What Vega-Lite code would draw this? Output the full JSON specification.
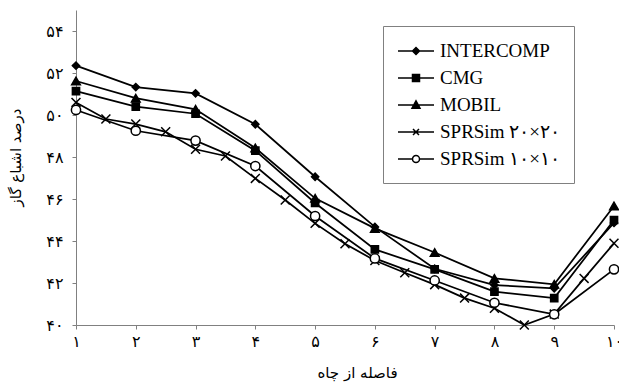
{
  "$schema": "https://vega.github.io/schema/vega-lite/v6.json",
  "width": 538,
  "height": 315,
  "autosize": {"type": "none"},
  "padding": {"left": 76, "top": 10, "right": 5, "bottom": 57},
  "background": "white",
  "config": {
    "view": {"stroke": null},
    "axis": {
      "grid": false,
      "domainColor": "#808080",
      "tickColor": "#808080",
      "tickSize": 4,
      "labelFont": "DejaVu Sans",
      "labelColor": "black",
      "labelFontSize": 15,
      "titleFont": "DejaVu Sans",
      "titleFontSize": 15,
      "titleFontWeight": "normal",
      "titleColor": "black"
    }
  },
  "data": {
    "values": [
      {"series": "INTERCOMP", "x": 1, "y": 52.35},
      {"series": "INTERCOMP", "x": 2, "y": 51.33},
      {"series": "INTERCOMP", "x": 3, "y": 51.03},
      {"series": "INTERCOMP", "x": 4, "y": 49.56},
      {"series": "INTERCOMP", "x": 5, "y": 47.06},
      {"series": "INTERCOMP", "x": 6, "y": 44.67},
      {"series": "INTERCOMP", "x": 7, "y": 42.68},
      {"series": "INTERCOMP", "x": 8, "y": 41.9},
      {"series": "INTERCOMP", "x": 9, "y": 41.75},
      {"series": "INTERCOMP", "x": 10, "y": 44.86},
      {"series": "CMG", "x": 1, "y": 51.14},
      {"series": "CMG", "x": 2, "y": 50.4},
      {"series": "CMG", "x": 3, "y": 50.06},
      {"series": "CMG", "x": 4, "y": 48.3},
      {"series": "CMG", "x": 5, "y": 45.81},
      {"series": "CMG", "x": 6, "y": 43.6},
      {"series": "CMG", "x": 7, "y": 42.65},
      {"series": "CMG", "x": 8, "y": 41.59},
      {"series": "CMG", "x": 9, "y": 41.28},
      {"series": "CMG", "x": 10, "y": 45.0},
      {"series": "MOBIL", "x": 1, "y": 51.62},
      {"series": "MOBIL", "x": 2, "y": 50.8},
      {"series": "MOBIL", "x": 3, "y": 50.27},
      {"series": "MOBIL", "x": 4, "y": 48.43},
      {"series": "MOBIL", "x": 5, "y": 46.03},
      {"series": "MOBIL", "x": 6, "y": 44.6},
      {"series": "MOBIL", "x": 7, "y": 43.45},
      {"series": "MOBIL", "x": 8, "y": 42.22},
      {"series": "MOBIL", "x": 9, "y": 41.94},
      {"series": "MOBIL", "x": 10, "y": 45.67},
      {"series": "SPRSim ۲۰×۲۰", "x": 1, "y": 50.6},
      {"series": "SPRSim ۲۰×۲۰", "x": 1.5, "y": 49.81},
      {"series": "SPRSim ۲۰×۲۰", "x": 2, "y": 49.57},
      {"series": "SPRSim ۲۰×۲۰", "x": 2.5, "y": 49.2},
      {"series": "SPRSim ۲۰×۲۰", "x": 3, "y": 48.37},
      {"series": "SPRSim ۲۰×۲۰", "x": 3.5, "y": 48.05},
      {"series": "SPRSim ۲۰×۲۰", "x": 4, "y": 46.98},
      {"series": "SPRSim ۲۰×۲۰", "x": 4.5, "y": 45.95},
      {"series": "SPRSim ۲۰×۲۰", "x": 5, "y": 44.84},
      {"series": "SPRSim ۲۰×۲۰", "x": 5.5, "y": 43.87},
      {"series": "SPRSim ۲۰×۲۰", "x": 6, "y": 43.07},
      {"series": "SPRSim ۲۰×۲۰", "x": 6.5, "y": 42.49},
      {"series": "SPRSim ۲۰×۲۰", "x": 7, "y": 41.92},
      {"series": "SPRSim ۲۰×۲۰", "x": 7.5, "y": 41.28},
      {"series": "SPRSim ۲۰×۲۰", "x": 8, "y": 40.8},
      {"series": "SPRSim ۲۰×۲۰", "x": 8.5, "y": 40.0},
      {"series": "SPRSim ۲۰×۲۰", "x": 9, "y": 40.52},
      {"series": "SPRSim ۲۰×۲۰", "x": 9.5, "y": 42.22},
      {"series": "SPRSim ۲۰×۲۰", "x": 10, "y": 43.89},
      {"series": "SPRSim ۱۰×۱۰", "x": 1, "y": 50.24},
      {"series": "SPRSim ۱۰×۱۰", "x": 2, "y": 49.25},
      {"series": "SPRSim ۱۰×۱۰", "x": 3, "y": 48.78},
      {"series": "SPRSim ۱۰×۱۰", "x": 4, "y": 47.57},
      {"series": "SPRSim ۱۰×۱۰", "x": 5, "y": 45.19},
      {"series": "SPRSim ۱۰×۱۰", "x": 6, "y": 43.17},
      {"series": "SPRSim ۱۰×۱۰", "x": 7, "y": 42.12},
      {"series": "SPRSim ۱۰×۱۰", "x": 8, "y": 41.06},
      {"series": "SPRSim ۱۰×۱۰", "x": 9, "y": 40.51},
      {"series": "SPRSim ۱۰×۱۰", "x": 10, "y": 42.65}
    ]
  },
  "encoding": {
    "x": {
      "field": "x",
      "type": "quantitative",
      "scale": {"domain": [1, 10], "nice": false, "zero": false},
      "axis": {
        "values": [1, 2, 3, 4, 5, 6, 7, 8, 9, 10],
        "labelExpr": "['', '۱', '۲', '۳', '۴', '۵', '۶', '۷', '۸', '۹', '۱۰'][datum.value]",
        "labelPadding": 4,
        "labelFontSize": 16,
        "labelFlush": false,
        "title": "فاصله از چاه",
        "titleX": 281,
        "titleY": 47,
        "titleAlign": "center",
        "titleBaseline": "middle",
        "titleAnchor": null
      }
    },
    "y": {
      "field": "y",
      "type": "quantitative",
      "scale": {"domain": [40, 55], "nice": false, "zero": false},
      "axis": {
        "values": [40, 42, 44, 46, 48, 50, 52, 54],
        "labelExpr": "['۴۰', '۴۲', '۴۴', '۴۶', '۴۸', '۵۰', '۵۲', '۵۴'][(datum.value - 40) / 2]",
        "labelPadding": 9,
        "labelFontSize": 16,
        "labelFlush": false,
        "title": "درصد اشباع گاز",
        "titleX": -61,
        "titleY": 147,
        "titleAlign": "center",
        "titleBaseline": "middle",
        "titleAngle": -90
      }
    }
  },
  "layer": [
    {
      "mark": {"type": "line", "strokeWidth": 1.75},
      "encoding": {
        "color": {
          "field": "series",
          "type": "nominal",
          "scale": {
            "domain": ["INTERCOMP", "CMG", "MOBIL", "SPRSim ۲۰×۲۰", "SPRSim ۱۰×۱۰"],
            "range": ["black", "black", "black", "black", "black"]
          },
          "legend": {
            "title": null,
            "orient": "none",
            "legendX": 307,
            "legendY": 16,
            "padding": 14,
            "strokeColor": "#808080",
            "fillColor": "white",
            "labelFont": "Liberation Serif",
            "labelFontSize": 19,
            "labelColor": "black",
            "labelOffset": 21,
            "labelLimit": 300,
            "rowPadding": 6,
            "symbolSize": 400,
            "symbolStrokeWidth": 1.5,
            "symbolType": {"expr": "datum.value === 'INTERCOMP' ? 'M-1,0H2.6M0.45,0L0.8,-0.35L1.15,0L0.8,0.35Z' : datum.value === 'CMG' ? 'M-1,0H2.6M0.45,-0.35H1.15V0.35H0.45Z' : datum.value === 'MOBIL' ? 'M-1,0H2.6M0.8,-0.42L1.2,0.32H0.4Z' : datum.value === 'SPRSim ۲۰×۲۰' ? 'M-1,0H2.6M0.5,-0.3L1.1,0.3M0.5,0.3L1.1,-0.3' : 'M-1,0H0.45M1.15,0H2.6M0.45,0A0.35,0.35 0 1,0 1.15,0A0.35,0.35 0 1,0 0.45,0Z'"},
            "symbolFillColor": {"expr": "datum.value === 'SPRSim ۱۰×۱۰' ? 'white' : 'black'"}
          }
        },
        "detail": {"field": "series", "type": "nominal"},
        "order": {"field": "x", "type": "quantitative"}
      }
    },
    {
      "mark": {"type": "point", "stroke": "black", "strokeWidth": 1.5, "opacity": 1},
      "encoding": {
        "shape": {
          "condition": [
            {"test": "datum.series === 'INTERCOMP'", "value": "diamond"},
            {"test": "datum.series === 'CMG'", "value": "square"},
            {"test": "datum.series === 'MOBIL'", "value": "triangle-up"},
            {"test": "datum.series === 'SPRSim ۲۰×۲۰'", "value": "M-1,-1L1,1M-1,1L1,-1"}
          ],
          "value": "circle"
        },
        "fill": {
          "condition": [
            {"test": "datum.series === 'SPRSim ۱۰×۱۰'", "value": "white"},
            {"test": "datum.series === 'SPRSim ۲۰×۲۰'", "value": "transparent"}
          ],
          "value": "black"
        },
        "size": {
          "condition": [
            {"test": "datum.series === 'SPRSim ۱۰×۱۰'", "value": 85},
            {"test": "datum.series === 'SPRSim ۲۰×۲۰'", "value": 80},
            {"test": "datum.series === 'MOBIL'", "value": 75}
          ],
          "value": 52
        }
      }
    }
  ]
}
